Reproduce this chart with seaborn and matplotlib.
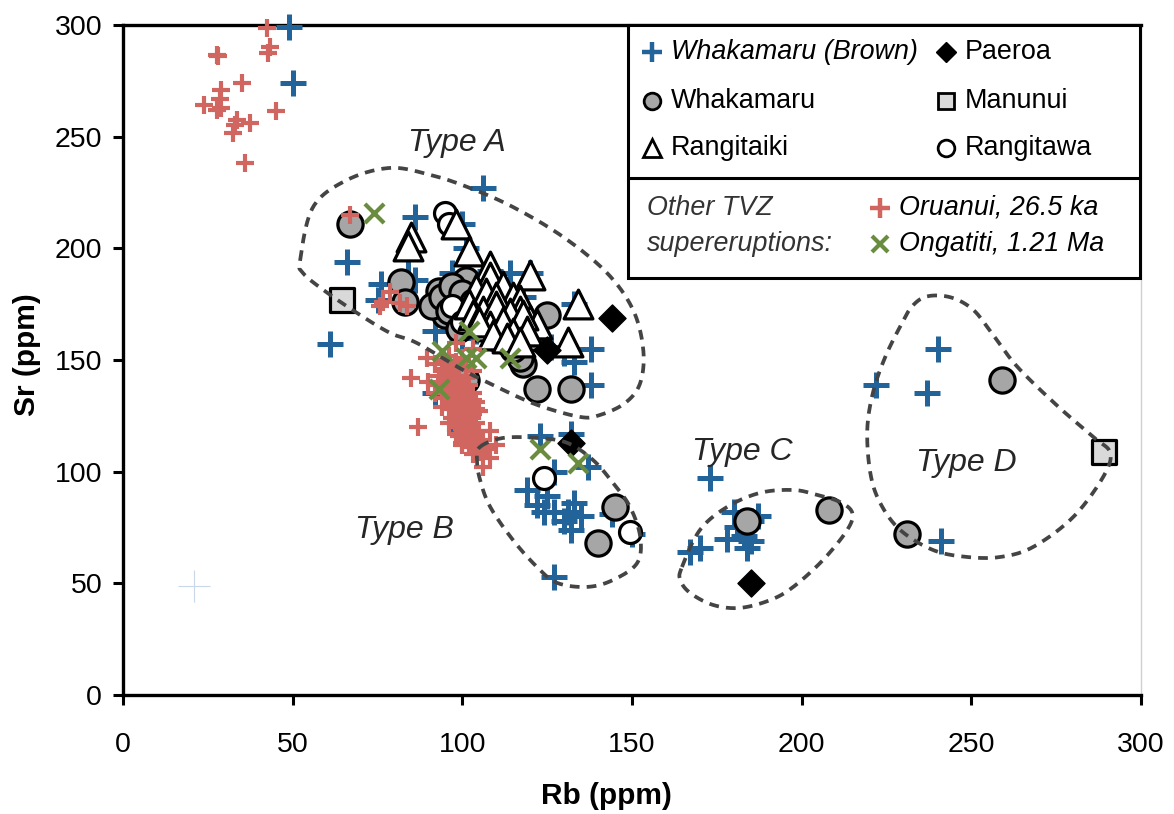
import numpy as np
import pandas as pd
import matplotlib
matplotlib.use("Agg")
import matplotlib.pyplot as plt
from matplotlib.patches import Rectangle
import seaborn as sns

# ---------------- data (Rb, Sr in ppm) ----------------
brown_rb = [49, 50, 106, 86, 66, 61, 84, 76, 75, 86, 97, 92, 100, 101, 108, 120, 114, 118,
            133, 138, 133, 138, 126, 130, 95, 105, 110, 100, 104, 112, 90, 98, 92, 100, 103,
            123, 132, 137, 127, 119, 125, 127, 124, 131, 133, 132, 144, 150, 127, 130, 122, 135,
            173, 167, 170, 180, 178, 183, 185, 184, 187, 181, 185,
            240, 222, 237, 241]
brown_sr = [299, 274, 227, 214, 194, 157, 195, 184, 177, 186, 189, 163, 211, 200, 190, 189, 189, 178,
            175, 155, 149, 139, 156, 153, 170, 172, 165, 160, 163, 158, 175, 182, 135, 118, 112,
            116, 117, 102, 100, 92, 89, 82, 82, 82, 86, 74, 81, 72, 53, 78, 85, 80,
            97, 64, 66, 82, 70, 71, 69, 66, 80, 75, 78,
            155, 139, 135, 69]

whakamaru_rb = [67, 82, 83, 125, 118, 122, 132, 117, 101, 145, 140, 184, 208, 259, 231,
                93, 96, 99, 102, 105, 108, 111, 98, 95, 104, 114, 117, 101, 93, 120, 110,
                91, 94, 97, 100, 103, 106, 109, 112, 96, 99, 102, 107, 113, 115]
whakamaru_sr = [211, 185, 176, 170, 148, 137, 137, 151, 141, 84, 68, 78, 83, 141, 72,
                175, 181, 177, 172, 179, 168, 175, 168, 170, 166, 163, 170, 186, 181, 160, 160,
                174, 178, 183, 180, 176, 173, 170, 166, 172, 164, 169, 177, 158, 155]

rangitawa_rb = [95, 96, 124, 149.5, 97, 100]
rangitawa_sr = [216, 211, 97, 73, 174, 167]

rangitaiki_rb = [85, 84, 98, 102, 108, 120, 134, 131, 108, 112, 115, 117, 105, 109, 106,
                 113, 120, 122, 111, 116, 117, 104, 107, 110, 102,
                 103, 106, 110, 114, 118, 108, 112, 115, 119, 105, 109, 113, 117]
rangitaiki_sr = [205, 201, 211, 199, 192, 188, 175, 158, 187, 183, 178, 177, 177, 174, 169,
                 169, 168, 166, 165, 166, 172, 182, 180, 178, 175,
                 170, 172, 174, 171, 170, 165, 167, 162, 163, 167, 161, 160, 158]

paeroa_rb = [144, 125, 132, 185]
paeroa_sr = [169, 154.5, 113, 50]

manunui_rb = [64.5, 289]
manunui_sr = [177, 109]

oruanui_rb = [42.4, 43.3, 42.8, 27.6, 28, 35, 29, 28.6, 24, 29, 27.6, 45, 33.5, 37.4, 33, 32.5, 36,
              67, 78.7, 76.6, 81.6, 83.6, 75.7,
              92, 94, 96, 98, 100, 95, 97, 99, 101, 93, 95, 97, 99, 101, 103, 94, 96, 98, 100, 102,
              95, 97, 99, 101, 103, 96, 98, 100, 102, 104, 97, 99, 101, 103, 105, 98, 100, 102, 104,
              99, 101, 103, 105, 100, 102, 104, 106, 103, 105, 107, 106, 108, 90, 92, 94, 96, 98,
              85, 87, 89.5, 98, 103, 108, 110,
              93, 95, 97, 99, 101, 103, 96, 98, 100, 102, 104, 98, 100, 102, 104, 106]
oruanui_sr = [298.6, 290, 287.5, 286.6, 286, 274, 271, 267, 264, 263, 262, 261.5, 257.5, 256, 255, 251.6, 238,
              215, 180.5, 176, 175.6, 174, 174,
              148, 150, 152, 149, 151, 146, 145, 146, 147, 143, 141, 140, 142, 143, 145, 137, 136, 138, 137, 139,
              133, 131, 133, 134, 135, 128, 127, 129, 130, 131, 124, 123, 125, 126, 127, 120, 119, 121, 122,
              116, 115, 117, 118, 112, 111, 113, 114, 108, 109, 110, 102, 106, 140, 135, 129, 122, 117,
              142, 120, 151, 157.6, 155, 118, 112,
              139, 138, 134, 130, 128, 132, 144, 141, 135, 125, 128, 122, 113, 119, 116, 111]

ongatiti_rb = [74, 102, 94, 101, 104, 114, 93, 123, 134]
ongatiti_sr = [216, 163, 154, 151, 151, 151, 137, 110, 104]

# faint marker near the lower left
faint_rb = [21]
faint_sr = [49]

# outlines of the four geochemical types (Rb, Sr vertices)
type_a_rb = [52.2, 56.0, 66.0, 78.7, 90.5, 101.4, 114.9, 129.7, 142.6, 150.3, 153.3, 152.4, 148.0,
             140.6, 134.7, 122.0, 110.2, 100.2, 86.6, 78.7, 69.0, 59.0, 53.0]
type_a_sr = [194.8, 218.5, 230.6, 236.0, 232.9, 227.5, 218.5, 205.1, 189.0, 172.4, 154.5, 139.7, 130.8,
             125.4, 124.5, 129.9, 137.9, 145.5, 157.6, 162.1, 171.0, 181.4, 189.0]
type_b_rb = [105.2, 112.0, 122.0, 130.9, 138.5, 144.4, 149.4, 152.4, 151.5, 144.4, 136.8, 127.9,
             122.0, 114.9, 108.2, 105.2, 104.3]
type_b_sr = [111.1, 115.1, 115.1, 112.9, 105.2, 94.9, 84.2, 70.8, 59.1, 51.5, 48.4, 50.2,
             57.3, 69.4, 84.2, 96.3, 105.2]
type_c_rb = [164.7, 170.0, 178.0, 187.7, 197.5, 204.5, 211.3, 214.9, 213.4, 206.3, 197.5, 190.7,
             181.8, 173.9, 167.1, 164.2]
type_c_sr = [57.3, 73.9, 84.2, 90.5, 91.8, 89.6, 86.4, 81.5, 73.9, 60.5, 48.4, 42.5,
             39.0, 40.3, 45.7, 51.5]
type_d_rb = [237.0, 244.0, 250.5, 256.0, 263.5, 275.3, 285.9, 290.9, 288.8, 280.0, 268.2, 258.5,
             248.7, 238.7, 229.0, 223.1, 220.2, 219.3, 221.0, 224.5, 229.0, 232.5]
type_d_sr = [178.5, 178.0, 172.5, 162.0, 147.0, 129.5, 115.5, 108.4, 97.6, 79.7, 66.3, 61.8,
             61.8, 64.9, 73.9, 86.0, 99.4, 118.7, 135.5, 151.0, 165.0, 174.0]

type_labels = ["Type A", "Type B", "Type C", "Type D"]
type_label_rb = [98.5, 83, 182.5, 248.5]
type_label_sr = [247, 74, 109, 104]

x_ticks = [0, 50, 100, 150, 200, 250, 300]
y_ticks = [0, 50, 100, 150, 200, 250, 300]

# ---------------- styling ----------------
BLUE = "#22649A"
RED = "#D0665F"
GREEN = "#6A8C3E"
GREY_FILL = "#A6A6A6"
LIGHT_FILL = "#D9D9D9"
DASH = "#444444"

sns.set_theme(style="white")
plt.rcParams["font.family"] = ["Liberation Sans", "DejaVu Sans"]

fig = plt.figure(figsize=(11.74, 8.14), dpi=100)
ax = fig.add_axes([0.1048, 0.1462, 0.8672, 0.8231])


def frame(rb, sr):
    return pd.DataFrame({"Rb": rb, "Sr": sr})


def closed_curve(xs, ys, n=24):
    pts = np.column_stack([xs, ys])
    N = len(pts)
    t = np.linspace(0, 1, n, endpoint=False)[:, None]
    segs = []
    for i in range(N):
        p0, p1, p2, p3 = pts[i - 1], pts[i], pts[(i + 1) % N], pts[(i + 2) % N]
        segs.append(0.5 * (2 * p1 + (-p0 + p2) * t
                           + (2 * p0 - 5 * p1 + 4 * p2 - p3) * t ** 2
                           + (-p0 + 3 * p1 - 3 * p2 + p3) * t ** 3))
    out = np.vstack(segs + [pts[:1]])
    return out[:, 0], out[:, 1]


common = dict(ax=ax, clip_on=False, legend=False)
sns.scatterplot(data=frame(faint_rb, faint_sr), x="Rb", y="Sr", marker="+", s=500,
                color="#C9D7EA", linewidth=0.8, zorder=2, **common)
sns.scatterplot(data=frame(brown_rb, brown_sr), x="Rb", y="Sr", marker="+", s=340,
                color=BLUE, linewidth=3.6, zorder=3, **common)
sns.scatterplot(data=frame(whakamaru_rb, whakamaru_sr), x="Rb", y="Sr", marker="o", s=330,
                facecolor=GREY_FILL, edgecolor="black", linewidth=2.3, zorder=4, **common)
sns.scatterplot(data=frame(rangitawa_rb, rangitawa_sr), x="Rb", y="Sr", marker="o", s=250,
                facecolor="white", edgecolor="black", linewidth=2.3, zorder=4, **common)
sns.scatterplot(data=frame(rangitaiki_rb, rangitaiki_sr), x="Rb", y="Sr", marker="^", s=430,
                facecolor="white", edgecolor="black", linewidth=2.3, zorder=5, **common)
sns.scatterplot(data=frame(paeroa_rb, paeroa_sr), x="Rb", y="Sr", marker="D", s=190,
                color="black", edgecolor="black", linewidth=1, zorder=5, **common)
sns.scatterplot(data=frame(manunui_rb, manunui_sr), x="Rb", y="Sr", marker="s", s=280,
                facecolor=LIGHT_FILL, edgecolor="black", linewidth=2.3, zorder=5, **common)
sns.scatterplot(data=frame(oruanui_rb, oruanui_sr), x="Rb", y="Sr", marker="+", s=170,
                color=RED, linewidth=3.0, zorder=6, **common)
sns.scatterplot(data=frame(ongatiti_rb, ongatiti_sr), x="Rb", y="Sr", marker="x", s=190,
                color=GREEN, linewidth=3.0, zorder=7, **common)

for xs, ys in [(type_a_rb, type_a_sr), (type_b_rb, type_b_sr),
               (type_c_rb, type_c_sr), (type_d_rb, type_d_sr)]:
    cx, cy = closed_curve(xs, ys)
    ax.plot(cx, cy, color=DASH, lw=2.7, ls=(0, (2.6, 1.9)), zorder=8,
            dash_capstyle="butt")

for lab, x, y in zip(type_labels, type_label_rb, type_label_sr):
    ax.text(x, y, lab, fontsize=23, style="italic", color="#262626",
            ha="center", va="center", zorder=9)

# ---------------- axes ----------------
ax.set_xlim(0, 300)
ax.set_ylim(0, 300)
ax.set_xticks(x_ticks)
ax.set_yticks(y_ticks)
ax.set_xticklabels([str(v) for v in x_ticks])
ax.set_yticklabels([str(v) for v in y_ticks])
ax.tick_params(axis="both", which="major", labelsize=20.5, length=7, width=2.2,
               color="black", direction="out", labelcolor="black")
ax.tick_params(axis="x", pad=20, bottom=True)
ax.tick_params(axis="y", pad=8, left=True)
for side in ["left", "bottom", "top"]:
    ax.spines[side].set_color("black")
    ax.spines[side].set_linewidth(2.4)
ax.spines["right"].set_color("#D0D0D0")
ax.spines["right"].set_linewidth(1.0)
ax.set_xlabel("Rb (ppm)", fontsize=21.5, fontweight="bold", color="black")
ax.set_ylabel("Sr (ppm)", fontsize=21.5, fontweight="bold", color="black")
ax.xaxis.set_label_coords((606 - 123) / 1018, (695 - 782) / 670)
ax.yaxis.set_label_coords((41 - 123) / 1018, (695 - 355) / 670)
ax.grid(False)

# ---------------- legend panel ----------------
tr = ax.transAxes
box_x0, box_x1 = 0.496, 0.999
box_y0, box_mid, box_y1 = 0.622, 0.772, 1.0
ax.add_patch(Rectangle((box_x0, box_y0), box_x1 - box_x0, box_y1 - box_y0, transform=tr,
                       facecolor="white", edgecolor="black", lw=2.2, zorder=20, clip_on=False))
ax.plot([box_x0, box_x1], [box_mid, box_mid], transform=tr, color="black", lw=2.2,
        zorder=21, clip_on=False)


def ypos(py):
    return (695 - py) / 670


def xpos(px):
    return (px - 123) / 1018


legend_rows = [
    (652, 52, "+", dict(color=BLUE, mew=3.2, ms=14), "Whakamaru (Brown)", "italic"),
    (946, 52, "D", dict(color="black", ms=10), "Paeroa", "normal"),
    (652, 101, "o", dict(mfc=GREY_FILL, mec="black", mew=2.0, ms=12), "Whakamaru", "normal"),
    (946, 101, "s", dict(mfc=LIGHT_FILL, mec="black", mew=2.0, ms=12), "Manunui", "normal"),
    (652, 148, "^", dict(mfc="white", mec="black", mew=2.0, ms=13), "Rangitaiki", "normal"),
    (946, 148, "o", dict(mfc="white", mec="black", mew=2.0, ms=12), "Rangitawa", "normal"),
    (880, 208, "+", dict(color=RED, mew=3.2, ms=14), "Oruanui, 26.5 ka", "italic"),
    (880, 244, "x", dict(color=GREEN, mew=3.0, ms=12), "Ongatiti, 1.21 Ma", "italic"),
]
for px, py, mk, kw, label, sty in legend_rows:
    ax.plot([xpos(px)], [ypos(py)], marker=mk, ls="none", transform=tr, zorder=22,
            clip_on=False, **kw)
    ax.text(xpos(px + 19), ypos(py), label, transform=tr, fontsize=19.4, style=sty,
            ha="left", va="center", color="black", zorder=22)

ax.text(xpos(647), ypos(208), "Other TVZ", transform=tr, fontsize=19.4, style="italic",
        ha="left", va="center", color="#333333", zorder=22)
ax.text(xpos(647), ypos(244), "supereruptions:", transform=tr, fontsize=19.4, style="italic",
        ha="left", va="center", color="#333333", zorder=22)

fig.savefig("out.png", dpi=100, facecolor="white")
